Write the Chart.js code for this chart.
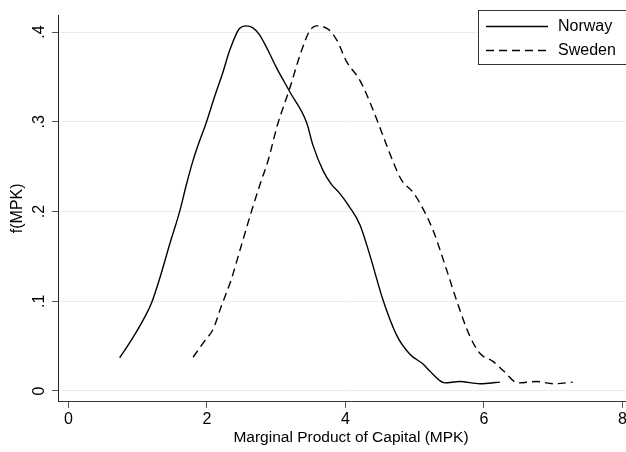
<!DOCTYPE html>
<html>
<head>
<meta charset="utf-8">
<script src="https://cdn.jsdelivr.net/npm/chart.js@4.4.1/dist/chart.umd.min.js"></script>
<style>
  html, body { margin: 0; padding: 0; background: #fff; overflow: hidden; }
  canvas { display: block; }
</style>
</head>
<body>
<!-- the original graph is cut off at the right edge, so the canvas runs a bit past the window -->
<canvas id="mpkChart" width="644" height="452"></canvas>
<script>
// kernel density of MPK
const norwayX = [0.74, 0.92, 1.10, 1.20, 1.34, 1.46, 1.61, 1.70, 1.80, 1.90, 1.99, 2.11, 2.23, 2.33, 2.47, 2.57, 2.66, 2.76, 2.88, 3.00, 3.20, 3.44, 3.53, 3.68, 3.80, 3.92, 4.06, 4.21, 4.35, 4.54, 4.74, 4.93, 5.12, 5.22, 5.43, 5.65, 5.94, 6.23];
const norwayY = [0.037, 0.058, 0.082, 0.098, 0.131, 0.163, 0.201, 0.229, 0.257, 0.280, 0.299, 0.328, 0.355, 0.380, 0.404, 0.407, 0.405, 0.397, 0.380, 0.361, 0.333, 0.299, 0.274, 0.245, 0.230, 0.220, 0.205, 0.185, 0.152, 0.102, 0.062, 0.041, 0.030, 0.022, 0.009, 0.0105, 0.008, 0.0098];

const swedenX = [1.80, 1.96, 2.09, 2.21, 2.35, 2.50, 2.65, 2.77, 2.88, 3.02, 3.19, 3.36, 3.48, 3.58, 3.68, 3.77, 3.89, 4.01, 4.21, 4.40, 4.54, 4.69, 4.81, 4.98, 5.12, 5.27, 5.46, 5.63, 5.79, 5.94, 6.13, 6.28, 6.49, 6.76, 7.00, 7.28];
const swedenY = [0.0376, 0.055, 0.069, 0.095, 0.124, 0.163, 0.202, 0.231, 0.256, 0.297, 0.336, 0.378, 0.401, 0.407, 0.406, 0.402, 0.389, 0.368, 0.346, 0.313, 0.285, 0.255, 0.235, 0.221, 0.203, 0.178, 0.135, 0.095, 0.062, 0.042, 0.033, 0.0225, 0.009, 0.0105, 0.008, 0.0098];

const xTicks = [0, 2, 4, 6, 8];
const yTicks = [0, 0.1, 0.2, 0.3, 0.4];
const yTickLabels = ['0', '.1', '.2', '.3', '.4'];

const toPoints = (xs, ys) => xs.map((x, i) => ({ x: x, y: ys[i] }));

const FONT = '"Liberation Sans", Arial, Helvetica, sans-serif';

// legend box sitting inside the plot, top right (as Stata does it)
const insideLegend = {
  id: 'insideLegend',
  afterDraw(chart) {
    const ctx = chart.ctx;
    ctx.save();
    ctx.fillStyle = '#fff';
    ctx.fillRect(478.5, 10.5, 150, 54);
    ctx.strokeStyle = '#333';
    ctx.lineWidth = 1;
    ctx.strokeRect(478.5, 10.5, 150, 54);
    chart.data.datasets.forEach((ds, i) => {
      const y = 26.5 + i * 24;
      ctx.strokeStyle = ds.borderColor;
      ctx.lineWidth = ds.borderWidth;
      ctx.setLineDash(ds.borderDash || []);
      ctx.beginPath();
      ctx.moveTo(486, y);
      ctx.lineTo(548, y);
      ctx.stroke();
      ctx.setLineDash([]);
      ctx.fillStyle = '#000';
      ctx.font = '16px ' + FONT;
      ctx.textBaseline = 'middle';
      ctx.textAlign = 'left';
      ctx.fillText(ds.label, 558, y);
    });
    ctx.restore();
  }
};

const mpkChart = new Chart(document.getElementById('mpkChart'), {
  type: 'scatter',
  data: {
    datasets: [
      {
        label: 'Norway',
        data: toPoints(norwayX, norwayY),
        showLine: true,
        borderColor: '#000',
        borderWidth: 1.4,
        pointRadius: 0,
        cubicInterpolationMode: 'monotone'
      },
      {
        label: 'Sweden',
        data: toPoints(swedenX, swedenY),
        showLine: true,
        borderColor: '#000',
        borderWidth: 1.4,
        borderDash: [8, 5],
        pointRadius: 0,
        cubicInterpolationMode: 'monotone'
      }
    ]
  },
  options: {
    responsive: false,
    animation: false,
    devicePixelRatio: 1,
    layout: { padding: { top: 5, left: 0, right: 0, bottom: 0 } },
    plugins: {
      legend: { display: false },
      tooltip: { enabled: false }
    },
    scales: {
      x: {
        type: 'linear',
        min: -0.15,
        max: 8.31,
        afterBuildTicks: (scale) => { scale.ticks = xTicks.map(v => ({ value: v })); },
        afterFit: (scale) => { scale.height = 51; },
        grid: { drawOnChartArea: false, tickLength: 7, tickColor: '#555' },
        border: { color: '#333', width: 1 },
        ticks: {
          color: '#000',
          font: { family: FONT, size: 16 },
          padding: 2,
          maxRotation: 0,
          callback: (v) => String(v)
        },
        title: {
          display: true,
          text: 'Marginal Product of Capital (MPK)',
          color: '#000',
          font: { family: FONT, size: 15.5 },
          padding: { top: 0, bottom: 5 }
        }
      },
      y: {
        min: -0.0112,
        max: 0.4184,
        afterBuildTicks: (scale) => { scale.ticks = yTicks.map(v => ({ value: v })); },
        afterFit: (scale) => { scale.width = 58; },
        grid: { color: '#e6eef0', tickLength: 6, tickColor: '#555' },
        border: { color: '#222', width: 1 },
        ticks: {
          color: '#000',
          font: { family: FONT, size: 16 },
          padding: 6,
          minRotation: 90,
          maxRotation: 90,
          crossAlign: 'center',
          callback: (v, i) => yTickLabels[i]
        },
        title: {
          display: true,
          text: 'f(MPK)',
          color: '#000',
          font: { family: FONT, size: 16 },
          padding: { top: 8, bottom: 0 }
        }
      }
    }
  },
  plugins: [insideLegend]
});
</script>
</body>
</html>
